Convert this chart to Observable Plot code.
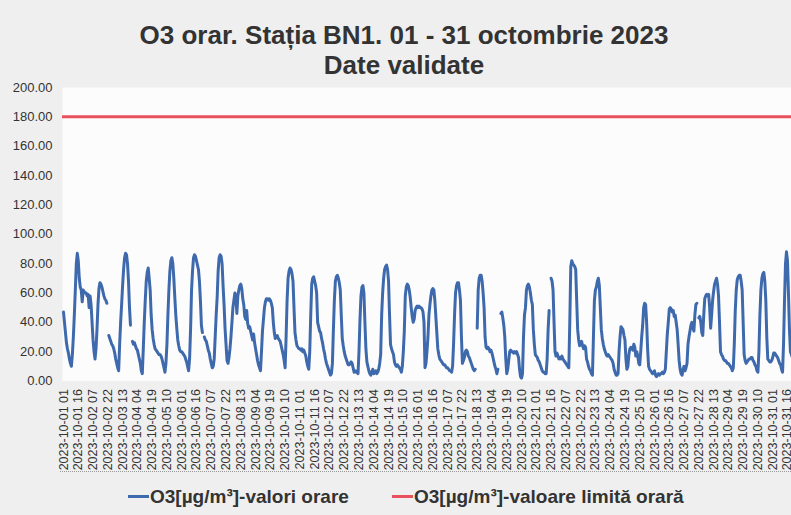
<!DOCTYPE html>
<html>
<head>
<meta charset="utf-8">
<script src="https://cdn.jsdelivr.net/npm/d3@7"></script>
<script src="https://cdn.jsdelivr.net/npm/@observablehq/plot@0.6"></script>
<style>
  html, body { margin: 0; padding: 0; }
  body { width: 791px; height: 515px; overflow: hidden; position: relative; background: #efefef;
         font-family: "Liberation Sans", Arial, sans-serif; color: #333; }
  #title { position: absolute; left: 0; top: 20px; width: 808px; text-align: center;
           font-weight: bold; font-size: 26px; line-height: 30px; color: #333; }
  #chart { position: absolute; left: 0; top: 80px; }
  #dots { position: absolute; left: 60px; top: 471px; width: 731px; border-top: 1px dotted #9a9a9a; }
  .leg { position: absolute; top: 486px; font-weight: bold; font-size: 19px; line-height: 22px; color: #333; white-space: nowrap; }
  .sw { display: inline-block; width: 21px; height: 3px; vertical-align: middle; margin-right: 1px; position: relative; top: -1px; }
</style>
</head>
<body>
<div id="title">O3 orar. Stația BN1. 01 - 31 octombrie 2023<br>Date validate</div>
<div id="chart"></div>
<div id="dots"></div>
<div class="leg" style="left:128px"><span class="sw" style="background:#3e6aad"></span>O3[µg/m³]-valori orare</div>
<div class="leg" style="left:392px"><span class="sw" style="background:#e9525c"></span>O3[µg/m³]-valoare limită orară</div>
<script>
// Hourly O3 values (µg/m³), 1–31 October 2023, hours 01..24 for each day; null = missing hour
const o3Values = [
  47,40,33,26,22,19,15,12,10,18,30,45,62,80,87,82,70,64,62,54,62,61,60,60,      // 01
  58,59,50,58,52,40,28,20,15,22,35,52,63,67,66,64,61,58,56,55,53,null,31,29,    // 02
  27,25,24,22,19,15,12,9,7,25,40,52,65,76,84,87,86,80,68,50,38,null,27,25,      // 03
  26,24,22,21,18,15,12,7,5,22,40,55,68,74,77,70,62,45,35,29,25,22,21,20,        // 04
  19,18,18,17,15,12,9,6,12,25,45,62,75,82,84,80,70,57,45,36,28,24,21,20,        // 05
  20,19,18,17,15,13,10,7,15,35,62,75,84,86,85,82,79,76,68,55,38,33,null,30,     // 06
  28,27,24,21,19,15,12,9,10,15,30,45,57,75,84,86,85,80,65,52,36,25,14,12,       // 07
  16,22,30,40,50,55,60,58,46,58,62,65,66,63,56,52,44,42,48,39,36,37,34,31,      // 08
  28,32,26,22,18,14,11,9,7,20,34,42,50,54,56,56,55,56,55,53,50,40,33,29,        // 09
  30,31,29,28,27,24,21,18,14,9,30,55,70,75,77,76,73,68,50,33,28,24,23,22,       // 10
  22,21,22,20,21,19,17,13,10,8,20,45,66,70,71,68,65,60,40,37,34,33,29,26,       // 11
  22,19,15,12,10,8,6,4,5,12,35,55,68,71,72,70,67,62,45,29,24,20,17,15,          // 12
  13,11,11,12,13,12,9,6,7,6,7,5,20,42,58,64,65,60,40,22,13,10,7,5,              // 13
  4,6,8,5,6,7,5,6,8,12,18,45,60,70,76,78,79,76,68,45,25,22,20,18,               // 14
  13,11,10,11,10,9,8,6,10,20,34,58,64,66,65,62,57,50,44,40,42,48,50,51,         // 15
  50,51,50,50,49,47,40,9,12,20,30,45,52,58,62,63,62,55,44,33,22,18,15,14,       // 16
  13,12,11,11,10,9,9,8,7,7,6,10,25,45,60,65,67,67,62,55,30,12,14,16,            // 17
  20,21,20,17,16,14,12,10,8,7,8,null,36,62,70,72,72,68,60,50,30,23,22,23,       // 18
  22,20,21,19,16,13,10,8,5,8,null,null,46,47,43,38,30,15,5,8,14,20,21,20,       // 19
  20,19,20,19,20,18,16,8,3,2,5,30,45,50,62,65,66,64,60,55,52,35,25,18,          // 20
  17,16,14,13,11,9,7,6,6,5,5,15,35,48,null,70,68,62,40,20,17,19,17,15,          // 21
  16,15,17,15,14,13,12,11,10,9,40,78,82,80,79,78,76,55,35,28,24,25,27,24,       // 22
  22,24,23,15,13,10,8,7,5,4,30,55,62,64,68,70,65,50,35,29,25,22,20,18,          // 23
  17,18,17,16,15,14,12,8,6,4,4,5,20,30,37,36,35,31,28,15,8,10,18,22,            // 24
  23,22,21,25,23,17,20,17,12,11,20,30,38,50,53,52,40,22,10,8,7,6,5,6,           // 25
  7,4,3,4,5,4,5,5,6,5,6,8,20,32,40,49,50,49,47,48,44,45,40,35,                  // 26
  25,14,8,5,4,8,10,7,9,12,25,30,34,38,40,36,34,45,52,53,null,43,44,40,          // 27
  33,31,45,56,58,59,58,59,50,36,45,55,61,66,68,70,66,58,40,20,18,17,15,14,      // 28
  14,13,12,12,11,10,9,7,9,25,48,62,69,71,72,72,68,62,40,18,14,12,13,14,         // 29
  15,15,16,16,14,13,11,10,7,6,20,45,62,70,73,74,68,55,30,15,14,13,13,14,        // 30
  16,19,19,18,17,16,14,12,11,8,6,25,55,80,88,82,60,35,20,18,16,15,14,13         // 31
];

// Hourly limit value
const limitValue = 180;

// Y-axis tick values
const yTickValues = [0, 20, 40, 60, 80, 100, 120, 140, 160, 180, 200];

// X-axis category labels shown (every 15th hour)
const tickLabels = [
  "2023-10-01 01","2023-10-01 16","2023-10-02 07","2023-10-02 22","2023-10-03 13",
  "2023-10-04 04","2023-10-04 19","2023-10-05 10","2023-10-06 01","2023-10-06 16",
  "2023-10-07 07","2023-10-07 22","2023-10-08 13","2023-10-09 04","2023-10-09 19",
  "2023-10-10 10","2023-10-11 01","2023-10-11 16","2023-10-12 07","2023-10-12 22",
  "2023-10-13 13","2023-10-14 04","2023-10-14 19","2023-10-15 10","2023-10-16 01",
  "2023-10-16 16","2023-10-17 07","2023-10-17 22","2023-10-18 13","2023-10-19 04",
  "2023-10-19 19","2023-10-20 10","2023-10-21 01","2023-10-21 16","2023-10-22 07",
  "2023-10-22 22","2023-10-23 13","2023-10-24 04","2023-10-24 19","2023-10-25 10",
  "2023-10-26 01","2023-10-26 16","2023-10-27 07","2023-10-27 22","2023-10-28 13",
  "2023-10-29 04","2023-10-29 19","2023-10-30 10","2023-10-31 01","2023-10-31 16"
];

// hour index of a "YYYY-MM-DD HH" label (01 Oct hour 01 = 0)
const hourIndex = s => (+s.slice(8, 10) - 1) * 24 + (+s.slice(11, 13) - 1);

const series = o3Values.map((v, i) => ({ i, v }));
const tickRows = tickLabels.map(label => ({ label, i: hourIndex(label) }));
const n = o3Values.length;

const chart = Plot.plot({
  width: 791,
  height: 395,
  marginTop: 7,
  marginBottom: 94.5,
  marginLeft: 62,
  marginRight: 0,
  style: { background: "none", overflow: "hidden", fontFamily: "Liberation Sans, Arial, sans-serif" },
  x: { domain: [0, n - 1], range: [63, 63 + (n - 1) * 0.985], axis: null },
  y: { domain: [0, 200], range: [300.5, 7], axis: null },
  marks: [
    Plot.frame({ fill: "#fcfcfc", stroke: "none" }),
    Plot.text(yTickValues, {
      y: d => d, frameAnchor: "left", text: d => d.toFixed(2),
      textAnchor: "end", dx: -10, fontSize: 13, fill: "#333"
    }),
    Plot.text(tickRows, {
      x: "i", y: () => 0, text: "label", rotate: -90, textAnchor: "end",
      dy: 8, fontSize: 12.5, fill: "#333"
    }),
    Plot.line(series, { x: "i", y: "v", stroke: "#3e6aad", strokeWidth: 3, strokeLinejoin: "round" }),
    Plot.ruleY([limitValue], { stroke: "#e9525c", strokeWidth: 3 })
  ]
});
document.getElementById("chart").appendChild(chart);
</script>
</body>
</html>
